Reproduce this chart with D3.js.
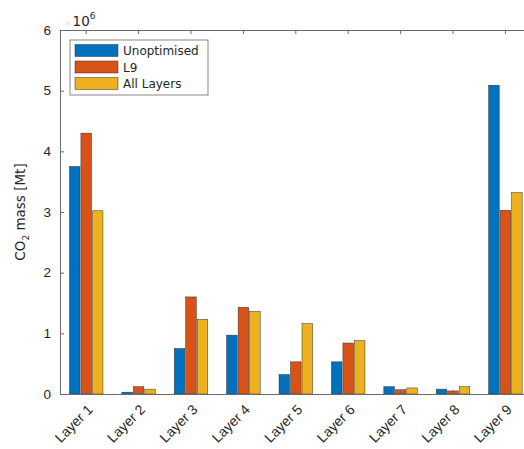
<!DOCTYPE html>
<html>
<head>
<meta charset="utf-8">
<script src="https://cdn.jsdelivr.net/npm/d3@7"></script>
<style>
  html, body { margin: 0; padding: 0; background: #fff; overflow: hidden; }
  svg { display: block; font-family: "DejaVu Sans", sans-serif; }
</style>
</head>
<body>
<svg id="chart" width="524" height="449"></svg>
<script>
// Stored CO2 mass per layer (units of 10^6 Mt)
const categories = ["Layer 1", "Layer 2", "Layer 3", "Layer 4", "Layer 5", "Layer 6", "Layer 7", "Layer 8", "Layer 9"];
const seriesNames = ["Unoptimised", "L9", "All Layers"];
const unoptimised = [3.75, 0.03, 0.75, 0.97, 0.32, 0.53, 0.12, 0.08, 5.09];
const l9 = [4.30, 0.12, 1.60, 1.43, 0.53, 0.84, 0.07, 0.05, 3.03];
const allLayers = [3.02, 0.08, 1.23, 1.36, 1.16, 0.88, 0.10, 0.12, 3.32];
const yTicks = [0, 1, 2, 3, 4, 5, 6];
const colors = ["#0072BD", "#D95319", "#EDB120"];

const seriesValues = [unoptimised, l9, allLayers];

const svg = d3.select("#chart");
const plotLeft = 60, plotTop = 30, plotBottom = 394, catStep = 52.4;
const plotRight = plotLeft + catStep * categories.length;

const x0 = d3.scaleBand().domain(categories).range([plotLeft, plotRight]).padding(0);
const groupW = x0.bandwidth() * 0.64;
const x1 = d3.scaleBand().domain(seriesNames).range([-groupW / 2, groupW / 2]).paddingInner(0.08);
const y = d3.scaleLinear().domain([0, 6]).range([plotBottom, plotTop]);

const axisColor = "#6a6a6a";
const textColor = "#262626";

// bars
const groups = svg.append("g").selectAll("g")
  .data(categories)
  .join("g")
  .attr("transform", d => `translate(${x0(d) + x0.bandwidth() / 2},0)`);

groups.selectAll("rect")
  .data((c, i) => seriesNames.map((s, k) => ({ s, k, v: seriesValues[k][i] })))
  .join("rect")
  .attr("x", d => x1(d.s))
  .attr("width", x1.bandwidth())
  .attr("y", d => y(d.v))
  .attr("height", d => y(0) - y(d.v))
  .attr("fill", d => colors[d.k])
  .attr("stroke", "#333")
  .attr("stroke-width", 0.5);

// y axis (left)
const yAxis = d3.axisLeft(y).tickValues(yTicks).tickSizeInner(-4).tickSizeOuter(0).tickPadding(9).tickFormat(d3.format("d"));
const gy = svg.append("g").attr("transform", `translate(${plotLeft},0)`).call(yAxis);
gy.select(".domain").attr("stroke", axisColor);
gy.selectAll(".tick line").attr("stroke", axisColor);
gy.selectAll(".tick text").attr("font-size", 13.5).attr("fill", textColor);

// bottom axis
const xAxis = d3.axisBottom(x0).tickSizeInner(-4).tickSizeOuter(0).tickPadding(0);
const gx = svg.append("g").attr("transform", `translate(0,${plotBottom})`).call(xAxis);
gx.select(".domain").attr("stroke", axisColor);
gx.selectAll(".tick line").attr("stroke", axisColor);
gx.selectAll(".tick text")
  .attr("font-size", 14)
  .attr("fill", textColor)
  .attr("text-anchor", "end")
  .attr("y", 0)
  .attr("dy", "0.35em")
  .attr("transform", "translate(4,13) rotate(-45)");

// top axis (box)
const xTop = d3.axisTop(x0).tickSizeInner(-4).tickSizeOuter(0).tickFormat("");
const gt = svg.append("g").attr("transform", `translate(0,${plotTop})`).call(xTop);
gt.select(".domain").attr("stroke", axisColor);
gt.selectAll(".tick line").attr("stroke", axisColor);

// exponent label
const ex = svg.append("text").attr("x", 64).attr("y", 26).attr("font-size", 13.5).attr("fill", textColor);
ex.append("tspan").text("\u00d7").attr("fill", "#ddd").attr("font-size", 9);
ex.append("tspan").text("10").attr("dx", 1);
ex.append("tspan").text("6").attr("font-size", 9).attr("dy", -7);

// y label
const yl = svg.append("text")
  .attr("transform", `translate(25,${(plotTop + plotBottom) / 2}) rotate(-90)`)
  .attr("text-anchor", "middle")
  .attr("font-size", 13.5)
  .attr("fill", textColor);
yl.append("tspan").text("CO");
yl.append("tspan").text("2").attr("font-size", 9).attr("dy", 4);
yl.append("tspan").text(" mass [Mt]").attr("dy", -4);

// legend
const lg = svg.append("g").attr("transform", "translate(70,40)");
lg.append("rect").attr("width", 138).attr("height", 55).attr("fill", "#fff").attr("stroke", axisColor).attr("stroke-width", 0.8);
seriesNames.forEach((name, k) => {
  const row = lg.append("g").attr("transform", `translate(5,${4.5 + k * 16.5})`);
  row.append("rect").attr("width", 43).attr("height", 12).attr("fill", colors[k]).attr("stroke", "#333").attr("stroke-width", 0.5);
  row.append("text").attr("x", 48).attr("y", 10.5).attr("font-size", 12).attr("fill", textColor).text(name);
});
</script>
</body>
</html>
